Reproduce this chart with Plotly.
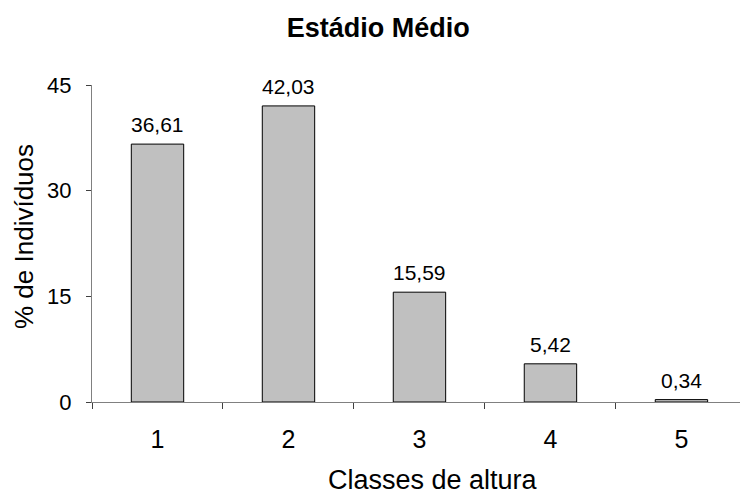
import plotly.graph_objects as go

# Height classes and share of individuals (%) per class
classes = ["1", "2", "3", "4", "5"]
percent = [36.61, 42.03, 15.59, 5.42, 0.34]
y_ticks = [0, 15, 30, 45]

labels = [f"{v:.2f}".replace(".", ",") for v in percent]

FONT = "Liberation Sans, Arial, sans-serif"
PLOT_TOP, PLOT_BOTTOM = 85, 402
PLOT_H = PLOT_BOTTOM - PLOT_TOP

fig = go.Figure(
    go.Bar(
        x=classes,
        y=percent,
        width=0.4,
        marker=dict(color="#C0C0C0", line=dict(color="#000000", width=1)),
        cliponaxis=False,
        hoverinfo="x+y",
    )
)

# value labels above each bar (category axis: position by index)
for i, (v, t) in enumerate(zip(percent, labels)):
    fig.add_annotation(
        x=i, y=v, text=t, showarrow=False,
        xanchor="center", yanchor="bottom", yshift=6,
        font=dict(family=FONT, size=21, color="#000000"),
    )

# axis titles
fig.add_annotation(
    xref="paper", yref="paper", x=0.527, y=-(480 - PLOT_BOTTOM) / PLOT_H,
    text="Classes de altura", showarrow=False,
    xanchor="center", yanchor="middle",
    font=dict(family=FONT, size=27, color="#000000"),
)
fig.add_annotation(
    xref="paper", yref="paper", x=-(92 - 24) / 648, y=(PLOT_BOTTOM - 237) / PLOT_H,
    text="% de Indivíduos", showarrow=False, textangle=-90,
    xanchor="center", yanchor="middle",
    font=dict(family=FONT, size=26, color="#000000"),
)

fig.update_layout(
    width=740,
    height=497,
    margin=dict(l=92, r=0, t=PLOT_TOP, b=497 - PLOT_BOTTOM),
    paper_bgcolor="white",
    plot_bgcolor="white",
    showlegend=False,
    font=dict(family=FONT, color="#000000"),
    title=dict(
        text="<b>Estádio Médio</b>",
        x=0.511,
        xanchor="center",
        y=1 - 28 / 497,
        yanchor="middle",
        font=dict(family=FONT, size=27, color="#000000"),
    ),
    xaxis=dict(
        type="category",
        range=[-0.5, 4.447],
        showline=True,
        linecolor="#808080",
        linewidth=1,
        ticks="outside",
        tickson="boundaries",
        ticklen=6,
        tickcolor="#404040",
        tickfont=dict(size=25),
        ticklabelstandoff=15,
        showgrid=False,
        zeroline=False,
    ),
    yaxis=dict(
        range=[0, 45],
        tickvals=y_ticks,
        showline=True,
        linecolor="#808080",
        linewidth=1,
        ticks="outside",
        ticklen=5,
        tickcolor="#404040",
        tickfont=dict(size=22),
        ticklabelstandoff=10,
        showgrid=False,
        zeroline=False,
    ),
)

fig.write_html("out.html")
